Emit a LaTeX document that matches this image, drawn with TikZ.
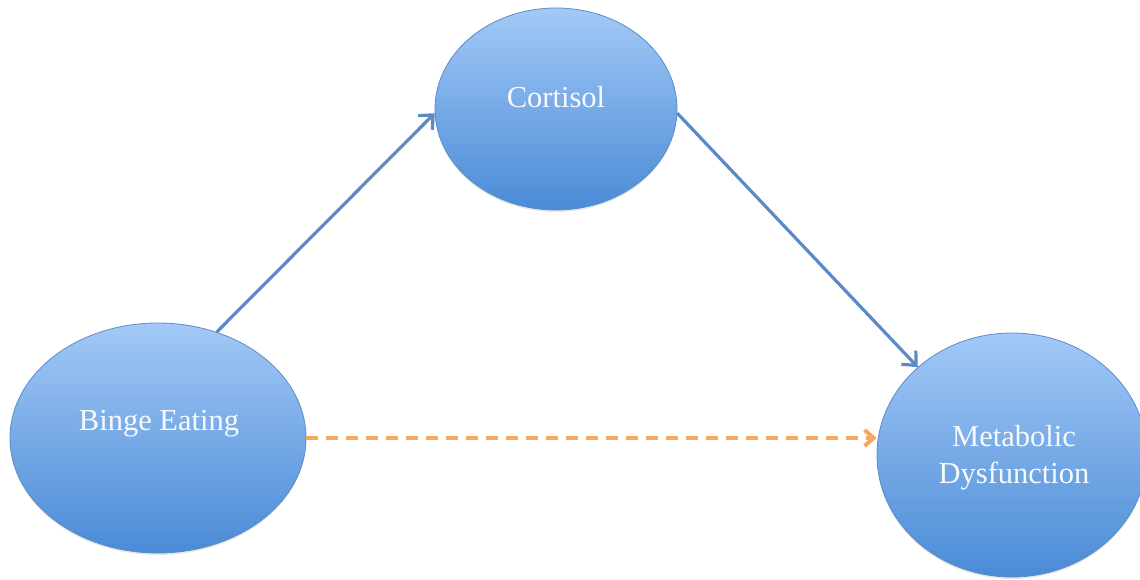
\documentclass[tikz,border=0pt]{standalone}
\usepackage{fontspec}
\setmainfont{Liberation Serif}
\usetikzlibrary{arrows.meta,shapes.geometric,shadows}
\definecolor{topblue}{HTML}{A3C9F7}
\definecolor{botblue}{HTML}{4A8BD6}
\definecolor{edgeblue}{HTML}{5A8CC8}
\definecolor{lineblue}{HTML}{5A8BC6}
\definecolor{dashorange}{HTML}{F6A95E}
\definecolor{txt}{HTML}{F7FAFD}
\tikzset{
  bubble/.style={ellipse, inner sep=0pt, draw=edgeblue, line width=0.8pt,
    top color=topblue, bottom color=botblue,
    drop shadow={opacity=0.18, shadow xshift=0pt, shadow yshift=-2pt}},
  lbl/.style={text=txt, font=\fontsize{30.5}{37}\selectfont, align=center, inner sep=0pt},
  flow/.style={draw=lineblue, line width=3.2pt, -{Straight Barb[length=11pt,width=20pt,line width=3.2pt]}},
  direct/.style={draw=dashorange, line width=4.2pt, dash pattern=on 12pt off 8pt,
    -{Straight Barb[length=9pt,width=16pt,line width=4pt]}}
}
\begin{document}
\begin{tikzpicture}[x=1pt,y=-1pt]
\useasboundingbox (0,0) rectangle (1140,579);
\node[bubble, minimum width=242pt, minimum height=202pt] (co) at (556,109) {};
\node[bubble, minimum width=296pt, minimum height=230pt] (be) at (158,438) {};
\node[bubble, minimum width=270pt, minimum height=244pt] (mf) at (1012,455) {};
\node[lbl] (coT) at (556,97) {Cortisol};
\node[lbl] (beT) at (159,424) {Binge Eating};
\node[lbl] (mfT) at (1014,458) {Metabolic\\Dysfunction};
\draw[flow] (be.61.5) -- (co.182);
\draw[flow] (co.-2) -- (mf.137);
\draw[direct] (be.east) -- (be.east -| mf.west);
\end{tikzpicture}
\end{document}
